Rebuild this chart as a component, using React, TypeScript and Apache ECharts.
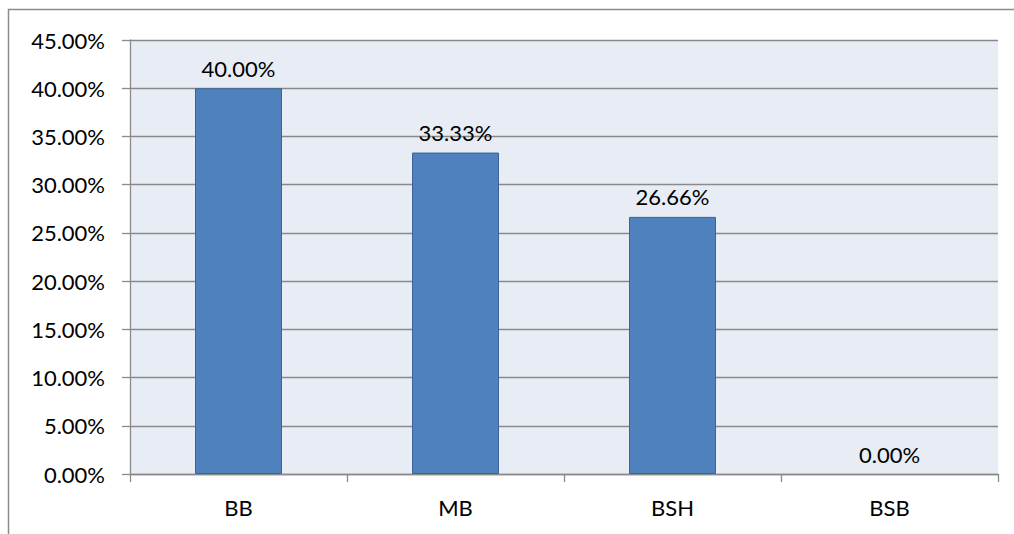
import React, { useEffect, useRef } from "react";
import * as echarts from "echarts";

const categories = ["BB", "MB", "BSH", "BSB"];
const values = [40.0, 33.33, 26.66, 0.0];
const yMin = 0;
const yMax = 45;
const yInterval = 5;

export default function App() {
  const ref = useRef<HTMLDivElement>(null);
  useEffect(() => {
    document.body.style.margin = "0";
    const chart = echarts.init(ref.current!, null, { renderer: "svg" });
    const font = "Lato, 'Open Sans', sans-serif";
    chart.setOption({
      animation: false,
      backgroundColor: "#ffffff",
      graphic: [
        {
          type: "rect",
          shape: { x: 8.5, y: 9.5, width: 1200, height: 700 },
          style: { fill: "none", stroke: "#8c8c8c", lineWidth: 1.5 },
          silent: true,
        },
      ],
      grid: {
        left: 130,
        right: 16,
        top: 40,
        bottom: 60,
        show: true,
        backgroundColor: "#E7ECF5",
        borderWidth: 0,
      },
      xAxis: {
        type: "category",
        data: categories,
        boundaryGap: true,
        axisLine: { show: true, lineStyle: { color: "#8a8a8a", width: 1.3 } },
        axisTick: { show: true, alignWithLabel: false, length: 8, lineStyle: { color: "#8a8a8a", width: 1.3 } },
        axisLabel: { color: "#000", fontSize: 22, fontFamily: font, margin: 22 },
        splitLine: { show: false },
      },
      yAxis: {
        type: "value",
        min: yMin,
        max: yMax,
        interval: yInterval,
        axisLine: { show: true, lineStyle: { color: "#8a8a8a", width: 1.3 } },
        axisTick: { show: true, length: 8, lineStyle: { color: "#8a8a8a", width: 1.3 } },
        axisLabel: {
          color: "#000",
          fontSize: 22,
          fontFamily: font,
          margin: 25,
          formatter: (v: number) => v.toFixed(2) + "%",
        },
        splitLine: { show: true, lineStyle: { color: "#8a8a8a", width: 1.3 } },
      },
      series: [
        {
          type: "bar",
          data: values.map((v) =>
            v === 0 ? { value: v, itemStyle: { borderWidth: 0, color: "rgba(0,0,0,0)" } } : v
          ),
          barWidth: 87,
          itemStyle: { color: "#4F81BD", borderColor: "#3A6497", borderWidth: 1 },
          label: {
            show: true,
            position: "top",
            distance: 9,
            color: "#000",
            fontSize: 22,
            fontFamily: font,
            formatter: (p: any) => Number(p.value).toFixed(2) + "%",
          },
        },
      ],
    });
    return () => chart.dispose();
  }, []);
  return <div ref={ref} style={{ width: 1014, height: 534 }} />;
}
